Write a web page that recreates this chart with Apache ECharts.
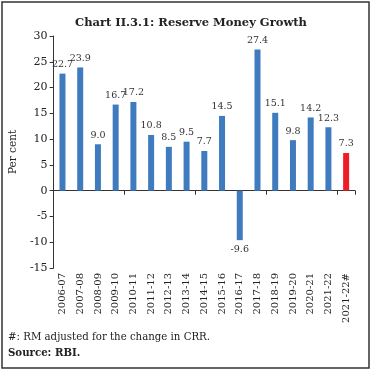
<!DOCTYPE html>
<html><head><meta charset="utf-8">
<script src="https://cdn.jsdelivr.net/npm/echarts@6/dist/echarts.min.js"></script>
<style>html,body{margin:0;padding:0;background:#fff}#c{width:372px;height:374px}</style>
</head><body><div id="c"></div>
<script>
const categories = ["2006-07","2007-08","2008-09","2009-10","2010-11","2011-12","2012-13","2013-14","2014-15","2015-16","2016-17","2017-18","2018-19","2019-20","2020-21","2021-22","2021-22#"];
const growth = [22.7,23.9,9.0,16.7,17.2,10.8,8.5,9.5,7.7,14.5,-9.6,27.4,15.1,9.8,14.2,12.3,7.3];
const yTicks = {min:-15, max:30, interval:5};
const highlightIndex = 16;
const font = "'DejaVu Serif', 'Liberation Serif', serif";
const chart = echarts.init(document.getElementById('c'));
chart.setOption({
  animation:false,
  backgroundColor:'#fff',
  title:{text:'Chart II.3.1: Reserve Money Growth', left:186, textAlign:'center', top:12,
    textStyle:{fontFamily:font, fontSize:11.5, fontWeight:'bold', color:'#222'}},
  graphic:[{type:'rect', shape:{x:2,y:2,width:367,height:366}, style:{fill:'none', stroke:'#333', lineWidth:1.5}},
    {type:'text', left:8, top:332, style:{text:'#: RM adjusted for the change in CRR.', fontFamily:font, fontSize:10.2, fill:'#222'}},
    {type:'text', left:8, top:348, style:{text:'Source: RBI.', fontFamily:font, fontSize:10.2, fontWeight:'bold', fill:'#222'}}],
  grid:{left:48, right:17, top:36, bottom:106},
  xAxis:[{type:'category', data:categories, position:'bottom',
      axisLine:{onZero:true, lineStyle:{color:'#333'}},
      axisTick:{show:true, inside:false, length:4, lineStyle:{color:'#333'}},
      axisLabel:{show:false}},
    {type:'category', data:categories, position:'bottom', offset:0,
      axisLine:{show:false, onZero:false}, axisTick:{show:false},
      axisLabel:{rotate:90, margin:5, fontFamily:font, fontSize:10, color:'#222', interval:0}}],
  yAxis:{type:'value', min:yTicks.min, max:yTicks.max, interval:yTicks.interval,
    name:'Per cent', nameLocation:'middle', nameGap:23, nameRotate:90,
    nameTextStyle:{fontFamily:font, fontSize:10.5, color:'#222'},
    axisLine:{show:true, lineStyle:{color:'#333'}},
    axisTick:{show:true, length:4, lineStyle:{color:'#333'}},
    splitLine:{show:false},
    axisLabel:{fontFamily:font, fontSize:11, color:'#222', margin:6}},
  series:[{type:'bar', xAxisIndex:0, barWidth:6,
    data:growth.map((v,i)=>({value:v, itemStyle:{color: i===highlightIndex ? '#ee1c25' : '#3f7bbf'}})),
    label:{show:true, position:'outside', distance:4, fontFamily:font, fontSize:9.5, color:'#333',
      formatter:p=>p.value.toFixed(1)}}]
});
</script></body></html>
